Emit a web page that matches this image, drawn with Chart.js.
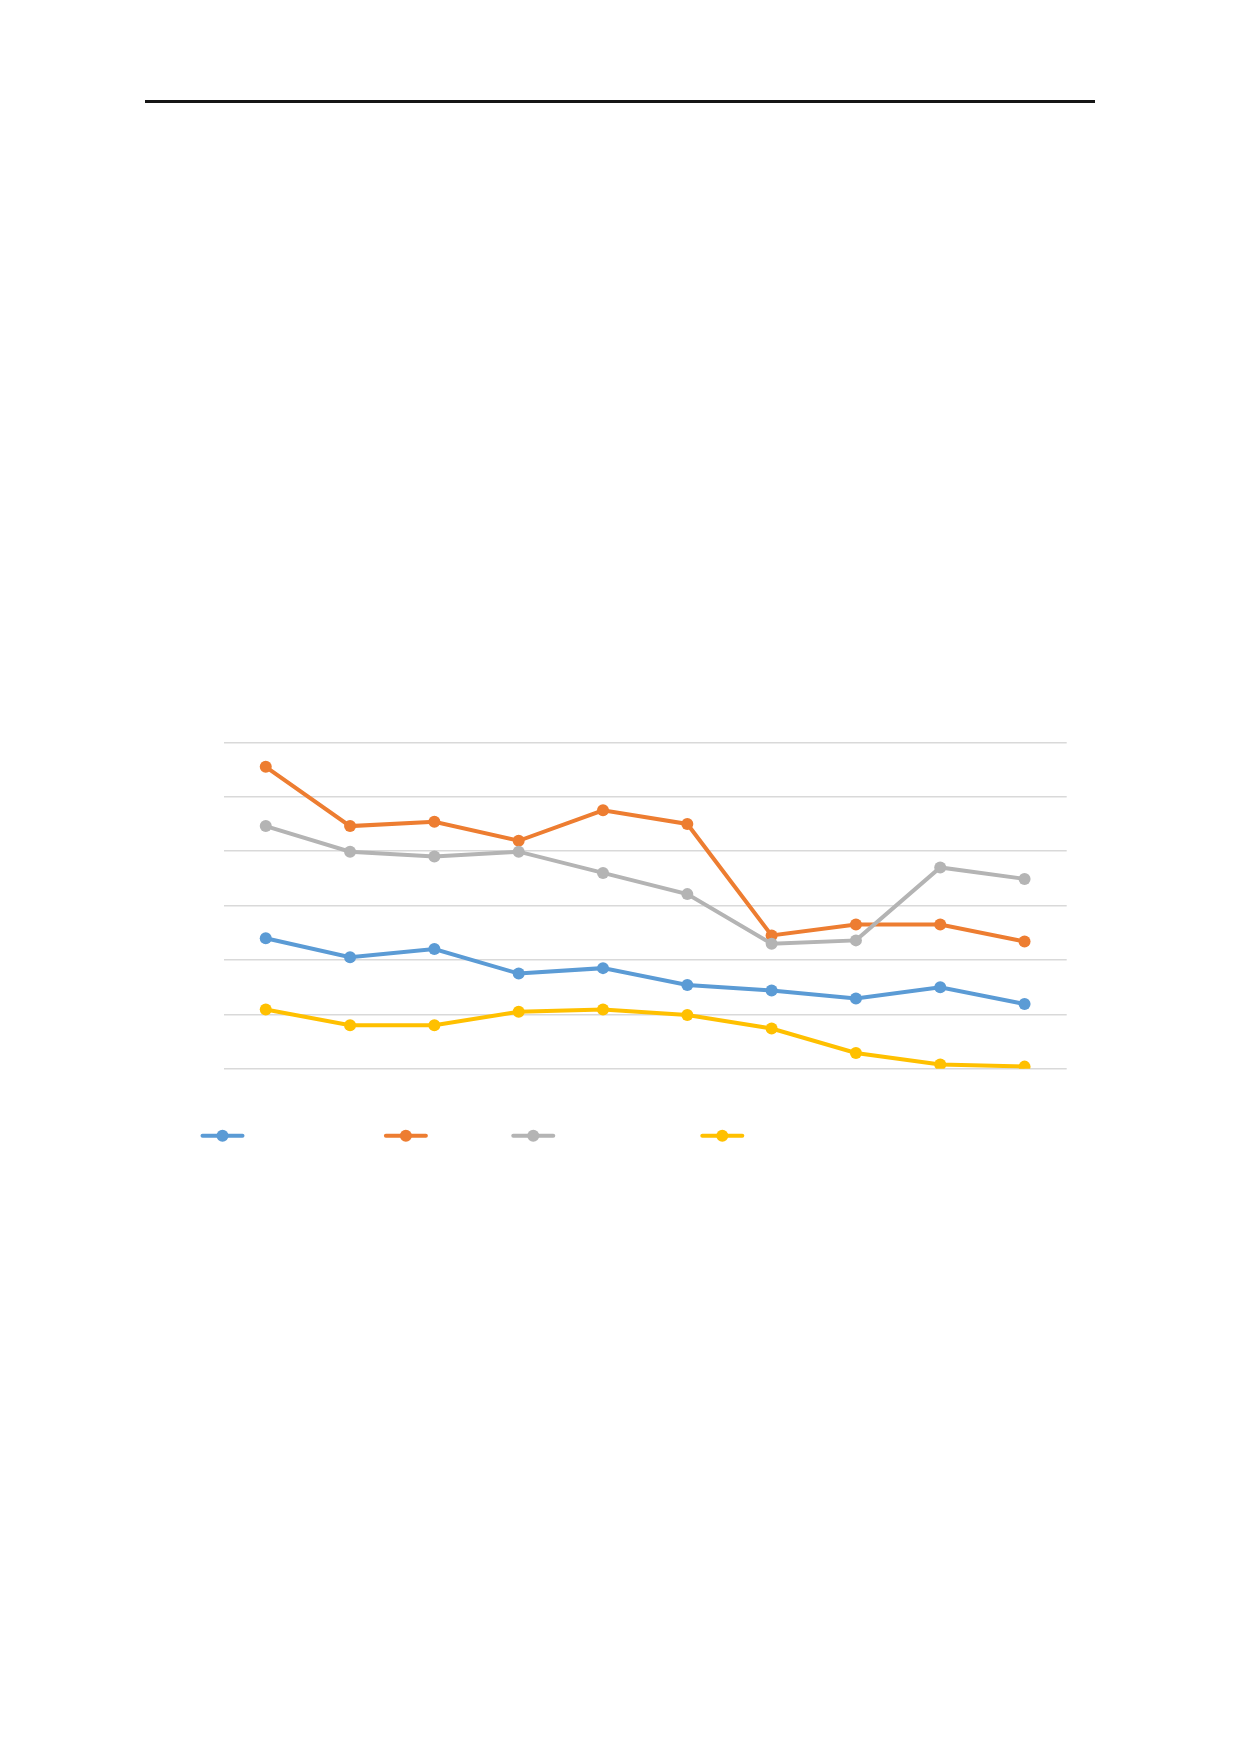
<!DOCTYPE html>
<html>
<head>
<meta charset="utf-8">
<script src="https://cdn.jsdelivr.net/npm/chart.js@4.4.1/dist/chart.umd.min.js"></script>
<style>
  html, body { margin: 0; padding: 0; background: #fff; }
  body { width: 1240px; height: 1754px; position: relative; font-family: "Noto Sans CJK SC", "DejaVu Sans", sans-serif; }
  .header-rule { position: absolute; left: 145px; top: 100px; width: 950px; height: 3px; background: #151515; }
  .chart-box { position: absolute; left: 200px; top: 721px; width: 900px; height: 460px; }
</style>
</head>
<body>
<div class="header-rule"></div>
<div class="chart-box"><canvas id="lineChart" width="900" height="460"></canvas></div>
<script>
const categories = ['1', '2', '3', '4', '5', '6', '7', '8', '9', '10'];
const yTicks = [0, 1, 2, 3, 4, 5, 6];

const seriesNames = ['Series 1', 'Series 2', 'Series 3', 'Series 4'];
const blueValues   = [2.40, 2.05, 2.20, 1.75, 1.85, 1.54, 1.44, 1.29, 1.50, 1.19];
const orangeValues = [5.55, 4.46, 4.54, 4.19, 4.75, 4.50, 2.45, 2.65, 2.65, 2.34];
const grayValues   = [4.46, 3.99, 3.90, 3.99, 3.60, 3.21, 2.30, 2.36, 3.70, 3.49];
const yellowValues = [1.09, 0.80, 0.80, 1.05, 1.09, 0.99, 0.74, 0.29, 0.08, 0.04];

const colors = ['#5B9BD5', '#ED7D31', '#B4B4B4', '#FFC000'];

// where the legend markers sit, as a share of the plot width
const legendSpots = [-0.0013, 0.2162, 0.3673, 0.5915];

const makeSet = (i, data) => ({
  label: seriesNames[i],
  data: data,
  borderColor: colors[i],
  backgroundColor: colors[i],
  borderWidth: 4,
  pointRadius: 6,
  pointHoverRadius: 6,
  pointBorderWidth: 0,
  tension: 0,
  order: 4 - i,
});

const legendMarks = {
  id: 'legendMarks',
  afterDraw(chart) {
    const { ctx, chartArea } = chart;
    const y = chartArea.bottom + 67;
    chart.data.datasets.forEach((ds, i) => {
      const cx = chartArea.left + legendSpots[i] * (chartArea.right - chartArea.left);
      ctx.save();
      ctx.strokeStyle = ds.borderColor;
      ctx.fillStyle = ds.borderColor;
      ctx.lineWidth = 4;
      ctx.lineCap = 'round';
      ctx.beginPath();
      ctx.moveTo(cx - 20, y);
      ctx.lineTo(cx + 20, y);
      ctx.stroke();
      ctx.beginPath();
      ctx.arc(cx, y, 6, 0, Math.PI * 2);
      ctx.fill();
      ctx.restore();
    });
  }
};

const ctx = document.getElementById('lineChart').getContext('2d');
const myChart = new Chart(ctx, {
  type: 'line',
  data: {
    labels: categories,
    datasets: [
      makeSet(0, blueValues),
      makeSet(1, orangeValues),
      makeSet(2, grayValues),
      makeSet(3, yellowValues),
    ],
  },
  options: {
    responsive: false,
    animation: false,
    layout: { padding: { left: 23.6, right: 33.3, top: 21.3, bottom: 112.2 } },
    plugins: {
      legend: { display: false },
      tooltip: { enabled: false },
    },
    scales: {
      x: {
        offset: true,
        grid: { display: false, drawTicks: false },
        border: { display: false },
        ticks: { display: false },
      },
      y: {
        min: yTicks[0],
        max: yTicks[yTicks.length - 1],
        afterBuildTicks: (scale) => { scale.ticks = yTicks.map(v => ({ value: v })); },
        grid: { color: '#D9D9D9', lineWidth: 1.5, drawTicks: false },
        border: { display: false },
        ticks: { display: false },
      },
    },
  },
  plugins: [legendMarks],
});
</script>
</body>
</html>
